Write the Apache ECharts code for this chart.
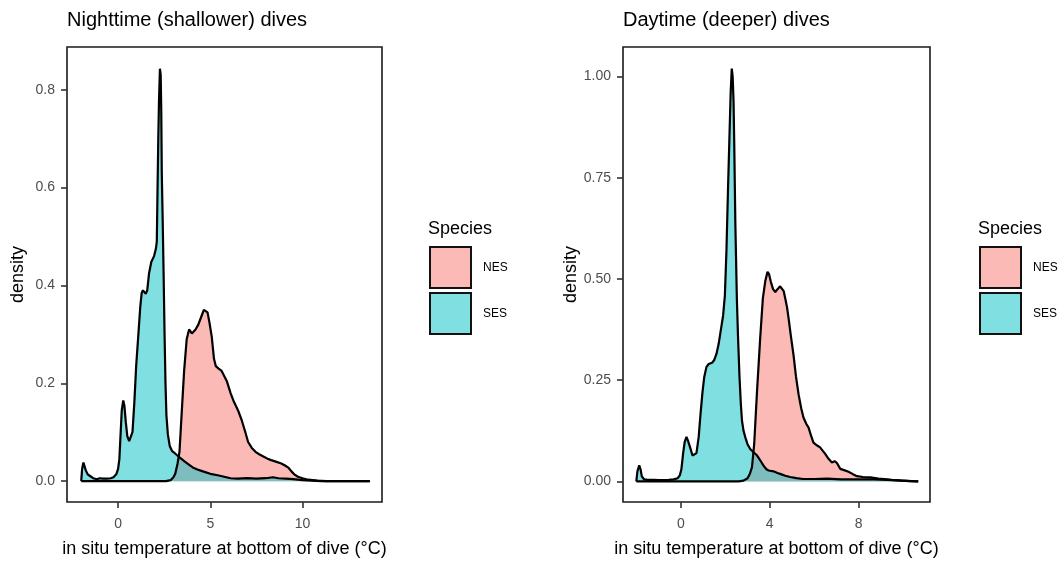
<!DOCTYPE html>
<html>
<head>
<meta charset="utf-8">
<script src="https://cdn.jsdelivr.net/npm/echarts@6/dist/echarts.min.js"></script>
<style>html,body{margin:0;padding:0;background:#fff}#c{width:1061px;height:563px}</style>
</head>
<body>
<div id="c"></div>
<script>
// ---------- data ----------
const panelTitles = ['Nighttime (shallower) dives', 'Daytime (deeper) dives'];
const speciesNames = ['NES', 'SES'];
const xTitle = 'in situ temperature at bottom of dive (°C)';
const yTitle = 'density';

const nightXTicks = [0, 5, 10];
const nightYTicks = [0, 0.2, 0.4, 0.6, 0.8];
const dayXTicks = [0, 4, 8];
const dayYTicks = [0, 0.25, 0.5, 0.75, 1.0];

// night: NES density [temperature, density]
const nightNES = [[-2.0,0],[2.6,0],[2.85,0.002],[3.0,0.008],[3.1,0.015],[3.22,0.035],[3.33,0.06],[3.45,0.14],[3.58,0.225],[3.72,0.29],[3.85,0.31],[4.0,0.302],[4.1,0.305],[4.2,0.31],[4.35,0.32],[4.5,0.335],[4.65,0.35],[4.75,0.353],[4.85,0.345],[4.95,0.325],[5.08,0.295],[5.2,0.25],[5.3,0.235],[5.45,0.23],[5.6,0.226],[5.7,0.222],[5.9,0.204],[6.1,0.18],[6.25,0.165],[6.5,0.145],[6.7,0.125],[6.9,0.1],[7.05,0.08],[7.25,0.068],[7.45,0.06],[7.65,0.055],[7.9,0.05],[8.1,0.046],[8.3,0.043],[8.55,0.04],[8.85,0.036],[9.05,0.032],[9.25,0.027],[9.4,0.02],[9.55,0.014],[9.75,0.009],[10.0,0.006],[10.3,0.003],[10.8,0.001],[11.3,0],[13.65,0]];
// night: SES density
const nightSES = [[-2.0,0],[-1.95,0.025],[-1.88,0.038],[-1.82,0.036],[-1.75,0.022],[-1.65,0.014],[-1.5,0.01],[-1.35,0.006],[-1.15,0.004],[-1.0,0.006],[-0.8,0.005],[-0.6,0.005],[-0.4,0.006],[-0.25,0.008],[-0.1,0.014],[0.0,0.025],[0.07,0.045],[0.14,0.1],[0.2,0.145],[0.28,0.165],[0.34,0.155],[0.42,0.12],[0.5,0.092],[0.6,0.082],[0.68,0.084],[0.78,0.1],[0.88,0.16],[0.98,0.235],[1.1,0.3],[1.2,0.355],[1.28,0.385],[1.35,0.39],[1.42,0.388],[1.5,0.383],[1.58,0.39],[1.68,0.425],[1.8,0.448],[1.95,0.46],[2.05,0.475],[2.1,0.49],[2.14,0.6],[2.18,0.7],[2.22,0.78],[2.27,0.843],[2.31,0.83],[2.34,0.76],[2.37,0.63],[2.42,0.53],[2.47,0.42],[2.52,0.3],[2.57,0.2],[2.62,0.135],[2.7,0.095],[2.8,0.072],[2.92,0.062],[3.05,0.058],[3.2,0.053],[3.35,0.048],[3.55,0.042],[3.8,0.035],[4.05,0.028],[4.3,0.024],[4.6,0.02],[5.0,0.015],[5.4,0.012],[5.75,0.009],[6.1,0.006],[6.5,0.005],[7.0,0.006],[7.5,0.005],[8.0,0.006],[8.4,0.008],[8.7,0.006],[9.1,0.005],[9.5,0.004],[10.0,0.002],[10.5,0.001],[11.0,0],[13.65,0]];
// day: NES density
const dayNES = [[-2.01,0],[2.6,0],[2.82,0.002],[3.0,0.008],[3.1,0.018],[3.2,0.035],[3.3,0.092],[3.42,0.215],[3.57,0.354],[3.69,0.452],[3.8,0.495],[3.9,0.518],[3.97,0.512],[4.05,0.493],[4.15,0.475],[4.25,0.468],[4.35,0.475],[4.47,0.482],[4.55,0.48],[4.63,0.47],[4.7,0.452],[4.78,0.43],[4.85,0.403],[4.95,0.36],[5.07,0.313],[5.18,0.26],[5.3,0.215],[5.42,0.18],[5.52,0.158],[5.65,0.142],[5.75,0.133],[5.85,0.115],[5.97,0.096],[6.1,0.09],[6.27,0.084],[6.4,0.075],[6.5,0.068],[6.65,0.056],[6.8,0.047],[6.92,0.05],[7.02,0.046],[7.18,0.031],[7.35,0.028],[7.55,0.024],[7.75,0.018],[7.93,0.013],[8.2,0.011],[8.53,0.01],[8.9,0.007],[9.28,0.005],[9.65,0.003],[10.03,0.002],[10.4,0.001],[10.69,0]];
// day: SES density
const daySES = [[-2.01,0],[-1.96,0.025],[-1.88,0.04],[-1.82,0.03],[-1.76,0.012],[-1.65,0.005],[-1.5,0.004],[-1.23,0.004],[-1.0,0.003],[-0.78,0.003],[-0.55,0.004],[-0.33,0.005],[-0.15,0.008],[-0.05,0.015],[0.02,0.03],[0.1,0.07],[0.17,0.098],[0.25,0.11],[0.32,0.1],[0.42,0.083],[0.52,0.064],[0.6,0.06],[0.7,0.07],[0.8,0.11],[0.88,0.165],[0.97,0.22],[1.05,0.258],[1.15,0.283],[1.25,0.29],[1.4,0.293],[1.5,0.3],[1.6,0.315],[1.7,0.34],[1.8,0.375],[1.9,0.41],[1.98,0.46],[2.05,0.57],[2.12,0.72],[2.18,0.84],[2.24,0.96],[2.29,1.02],[2.33,1.0],[2.37,0.94],[2.4,0.84],[2.45,0.64],[2.52,0.45],[2.57,0.36],[2.64,0.256],[2.7,0.19],[2.75,0.15],[2.82,0.125],[2.9,0.109],[3.0,0.092],[3.12,0.08],[3.27,0.072],[3.4,0.066],[3.5,0.058],[3.62,0.048],[3.72,0.039],[3.85,0.03],[3.95,0.027],[4.17,0.025],[4.35,0.021],[4.5,0.018],[4.7,0.014],[4.92,0.011],[5.2,0.008],[5.5,0.006],[6.0,0.006],[6.6,0.007],[7.2,0.005],[7.9,0.005],[8.7,0.005],[9.3,0.004],[9.9,0.002],[10.3,0.001],[10.69,0]];

// ---------- styling ----------
const FONT = '"Liberation Sans", Arial, sans-serif';
const fillColors = {NES: 'rgba(248,118,109,0.5)', SES: 'rgba(0,191,196,0.5)'};
const keyColors = {NES: '#FBBAB6', SES: '#7FDFE1'};
const tickColor = '#333333';
const labelColor = '#4D4D4D';

function xAxisOf(idx, min, max, ticks) {
  return {
    type: 'value', gridIndex: idx, min: min, max: max,
    axisLine: {show: false, onZero: false},
    splitLine: {show: false},
    axisTick: {show: true, customValues: ticks, length: 6, lineStyle: {color: tickColor, width: 1.6}},
    axisLabel: {customValues: ticks, color: labelColor, fontSize: 14, fontFamily: FONT, margin: 15},
    name: xTitle, nameLocation: 'middle', nameGap: 38,
    nameTextStyle: {color: '#000', fontSize: 18, fontFamily: FONT}
  };
}
function yAxisOf(idx, min, max, ticks, dec) {
  return {
    type: 'value', gridIndex: idx, min: min, max: max,
    axisLine: {show: false, onZero: false},
    splitLine: {show: false},
    axisTick: {show: true, customValues: ticks, length: 6, lineStyle: {color: tickColor, width: 1.6}},
    axisLabel: {customValues: ticks, color: labelColor, fontSize: 14, fontFamily: FONT, margin: 12,
      formatter: v => Number(v).toFixed(dec)},
    name: yTitle, nameLocation: 'middle', nameGap: 40,
    nameTextStyle: {color: '#000', fontSize: 18, fontFamily: FONT}
  };
}
function densitySeries(name, data, idx) {
  return {
    type: 'line', name: name, data: data, xAxisIndex: idx, yAxisIndex: idx,
    showSymbol: false, symbol: 'none', smooth: false, silent: true,
    itemStyle: {color: keyColors[name]},
    lineStyle: {color: '#000', width: 2.2},
    areaStyle: {color: fillColors[name], opacity: 1, origin: 'auto'},
    animation: false
  };
}
function legendOf(left) {
  return {
    orient: 'vertical', left: left, top: 246, padding: 0, itemGap: 3,
    itemWidth: 41, itemHeight: 41, selectedMode: false,
    textStyle: {fontSize: 12, fontFamily: FONT, color: '#000', padding: [0, 0, 0, 7]},
    data: speciesNames.map(n => ({name: n, icon: 'rect',
      itemStyle: {color: keyColors[n], borderColor: '#111', borderWidth: 2}}))
  };
}

const titleStyle = (size) => ({fontSize: size, fontWeight: 'normal', color: '#000', fontFamily: FONT});

const chart = echarts.init(document.getElementById('c'), null, {renderer: 'canvas'});
chart.setOption({
  backgroundColor: '#fff',
  animation: false,
  title: [
    {text: panelTitles[0], left: 67, top: 10, padding: 0, textStyle: titleStyle(20)},
    {text: panelTitles[1], left: 623, top: 10, padding: 0, textStyle: titleStyle(20)},
    {text: 'Species', left: 428, top: 220, padding: 0, textStyle: titleStyle(18)},
    {text: 'Species', left: 978, top: 220, padding: 0, textStyle: titleStyle(18)}
  ],
  legend: [legendOf(429), legendOf(979)],
  grid: [
    {left: 67, top: 47, width: 315, height: 458, show: true, borderColor: '#1a1a1a', borderWidth: 1.6, backgroundColor: '#fff'},
    {left: 623, top: 47, width: 307, height: 458, show: true, borderColor: '#1a1a1a', borderWidth: 1.6, backgroundColor: '#fff'}
  ],
  xAxis: [xAxisOf(0, -2.77, 14.31, nightXTicks), xAxisOf(1, -2.61, 11.22, dayXTicks)],
  yAxis: [yAxisOf(0, -0.0426, 0.8874, nightYTicks, 1), yAxisOf(1, -0.0508, 1.0732, dayYTicks, 2)],
  series: [
    densitySeries('NES', nightNES, 0),
    densitySeries('SES', nightSES, 0),
    densitySeries('NES', dayNES, 1),
    densitySeries('SES', daySES, 1)
  ]
});
</script>
</body>
</html>
